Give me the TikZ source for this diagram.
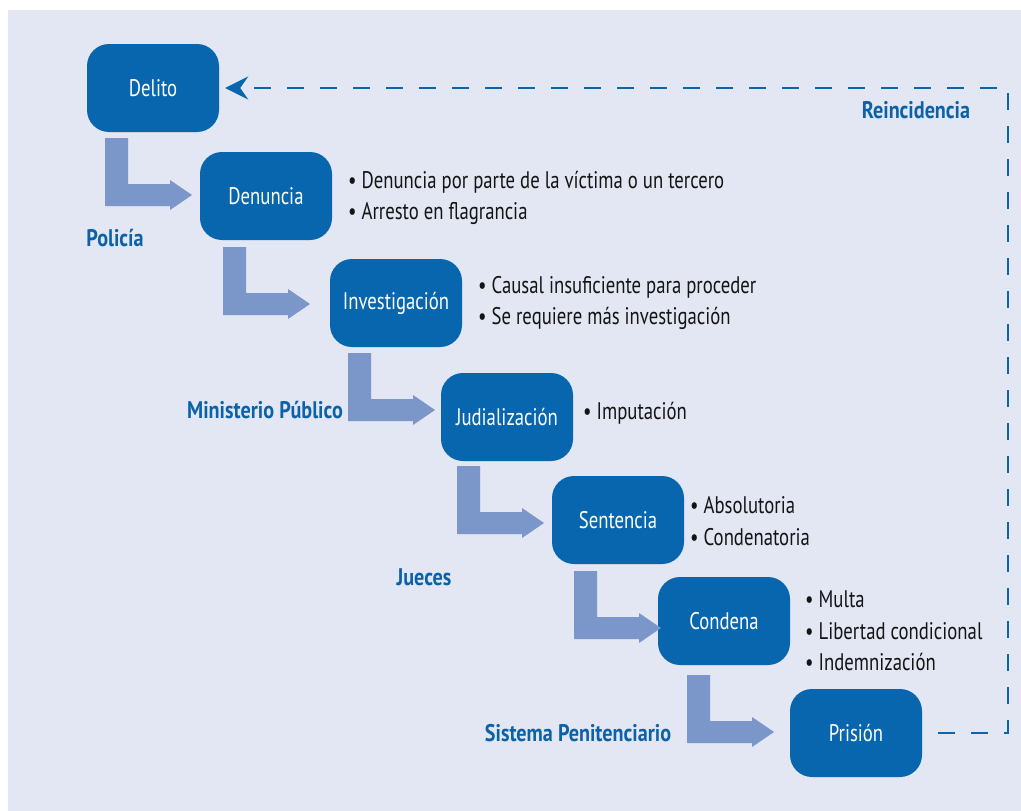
\documentclass[tikz,border=0pt]{standalone}
\usepackage{fontspec}
\setmainfont{PT Sans}[FakeStretch=0.78]
\newfontfamily\labfont{PT Sans Bold}[FakeStretch=0.84]
\usetikzlibrary{arrows.meta}
\definecolor{bgc}{HTML}{E3E6F3}
\definecolor{boxc}{HTML}{0766AD}
\definecolor{arrc}{HTML}{7B96C8}
\definecolor{labc}{HTML}{0B62A8}
\tikzset{
  stepbox/.style={fill=boxc, rounded corners=22pt, minimum width=132pt, minimum height=88pt, inner sep=0pt, text=white, font=\fontsize{24pt}{28pt}\selectfont},
  bul/.style={anchor=west, align=left, text=black!92, inner sep=0pt, font=\fontsize{24pt}{31.5pt}\selectfont},
  lab/.style={text=labc, inner sep=0pt, font=\fontsize{24pt}{28pt}\labfont},
  larr/.style={fill=arrc},
  dashline/.style={draw=boxc, line width=2.6pt, dash pattern=on 17pt off 16pt, dash phase=17pt, -{Stealth[length=23pt, width=23pt, inset=8pt]}},
}
\newcommand\lshape[2]{\fill[larr] (#1,#2) -- ++(23,0) -- ++(0,46) -- ++(42,0) -- ++(0,-4) -- ++(22,15) -- ++(-22,15) -- ++(0,-4) -- ++(-65,0) -- cycle;}
\begin{document}
\begin{tikzpicture}[x=1pt,y=-1pt]
\useasboundingbox (0,0) rectangle (1021,811);
\fill[white] (0,0) rectangle (1021,811);
\fill[bgc] (8,10) rectangle (1021,811);

\node[stepbox] (delito) at (153,88) {Delito};
\node[stepbox] (denuncia) at (266,196) {Denuncia};
\node[stepbox] (invest) at (396,303) {Investigación};
\node[stepbox] (judi) at (507,417) {Judialización};
\node[stepbox] (sent) at (618,520) {Sentencia};
\node[stepbox] (condena) at (724,621) {Condena};
\node[stepbox] (prision) at (856,733) {Prisión};

\lshape{105}{138}
\lshape{223}{247}
\lshape{348}{353}
\lshape{457}{466}
\lshape{574}{571}
\lshape{687}{675}

\node[bul] (b1) at (348,198) {• Denuncia por parte de la víctima o un tercero\\• Arresto en flagrancia};
\node[bul] (b2) at (478,303) {• Causal insuficiente para proceder\\• Se requiere más investigación};
\node[bul] (b3) at (583,413) {• Imputación};
\node[bul] (b4) at (690,521) {• Absolutoria\\• Condenatoria};
\node[bul] (b5) at (805,631) {• Multa\\• Libertad condicional\\• Indemnización};

\node[lab] (l1) at (115,238) {Policía};
\node[lab] (l2) at (265,410) {Ministerio Público};
\node[lab] (l3) at (424,577) {Jueces};
\node[lab] (l4) at (578,733) {Sistema Penitenciario};
\node[lab] (l5) at (916,110) {Reincidencia};

\coordinate (c1) at (1008,733);
\coordinate (c2) at (1008,88);
\draw[dashline, shorten >=6pt] (prision.east) -- (c1) -- (c2) -- (delito.east);
\end{tikzpicture}
\end{document}
